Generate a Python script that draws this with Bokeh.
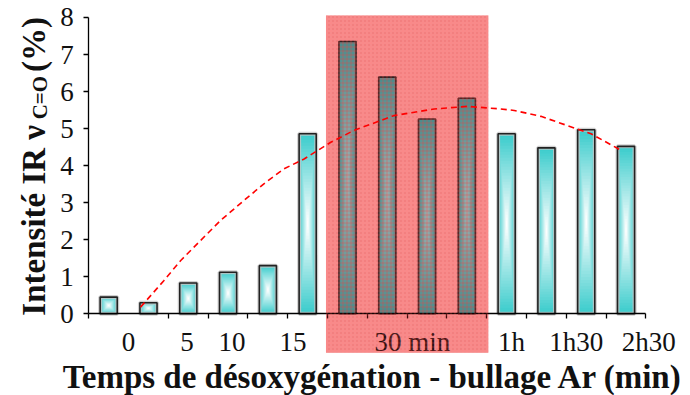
import numpy as np
from bokeh.plotting import figure
from bokeh.models import Range1d, LinearAxis, FixedTicker, Label
from bokeh.embed import file_html
from bokeh.resources import INLINE

# ---------------- data ----------------
values = [0.45, 0.30, 0.83, 1.12, 1.30, 4.86, 7.35, 6.39, 5.26, 5.82, 4.86, 4.48, 4.97, 4.52]
tick_labels = ["0", "5", "10", "15", "30 min", "1h", "1h30", "2h30"]
tick_label_pos = [1.0, 2.47, 3.6, 5.13, 8.13, 10.62, 12.25, 14.07]
category_edges = [0] + list(range(2, 15))
trend_x = [1.30, 1.89, 2.31, 2.81, 3.31, 3.90, 4.40, 4.90, 5.41, 6.08, 6.66, 7.67,
           8.68, 9.52, 10.35, 10.69, 11.36, 12.03, 12.62, 13.38]
trend_y = [0.18, 0.90, 1.44, 1.98, 2.52, 3.06, 3.51, 3.91, 4.18, 4.63, 4.95, 5.35,
           5.53, 5.60, 5.53, 5.49, 5.33, 5.08, 4.86, 4.41]
zone_x = (5.96, 10.04)        # shaded "30 min" zone (category units)
zone_y = (-1.05, 8.05)
y_ticks = list(range(9))
x_title = "Temps de désoxygénation - bullage Ar (min)"

FONT = "Liberation Serif"
BAR_W = 0.43
N_STEPS = 30
TEAL = np.array([60, 204, 204])
WHITE = np.array([255, 255, 255])
ZONE_EDGE = np.array([62, 148, 148])
ZONE_CENTER = np.array([150, 186, 186])

X0, X1 = -2.219, 15.12
Y0, Y1 = -2.206, 8.458
p = figure(width=690, height=395, x_range=Range1d(X0, X1), y_range=Range1d(Y0, Y1),
           output_backend="svg", toolbar_location=None, x_axis_type=None, y_axis_type=None,
           min_border=0)
p.outline_line_color = None
p.background_fill_color = "white"
p.border_fill_color = "white"

# ---------------- shaded zone (behind the bars) ----------------
p.quad(left=[zone_x[0]], right=[zone_x[1]], bottom=[zone_y[0]], top=[zone_y[1]],
       fill_color="#ea3c3c", fill_alpha=0.62, line_color=None,
       hatch_pattern="+", hatch_color="white", hatch_alpha=0.5, hatch_scale=4,
       hatch_weight=1)

# ---------------- bars with rectangular "from centre" gradient ----------------
xc = np.arange(len(values)) + 0.5
vals = np.array(values)
in_zone = (xc > zone_x[0]) & (xc < zone_x[1])
L, R, B, T, C = [], [], [], [], []
for k in range(N_STEPS):
    s = 1 - k / N_STEPS
    t = k / (N_STEPS - 1)
    for cx, v, z in zip(xc, vals, in_zone):
        edge, centre = (ZONE_EDGE, ZONE_CENTER) if z else (TEAL, WHITE)
        col = edge * (1 - t) + centre * t
        L.append(cx - BAR_W / 2 * s)
        R.append(cx + BAR_W / 2 * s)
        B.append(v / 2 - v / 2 * s)
        T.append(v / 2 + v / 2 * s)
        C.append("#%02x%02x%02x" % tuple(int(round(c)) for c in col))
p.quad(left=L, right=R, bottom=B, top=T, fill_color=C, line_color=None)
# soft shadow + outline
p.quad(left=xc[~in_zone] - BAR_W / 2, right=xc[~in_zone] + BAR_W / 2, bottom=0,
       top=vals[~in_zone], fill_color=None, line_color="#c4c4c4", line_width=4, line_alpha=0.8)
p.quad(left=xc - BAR_W / 2, right=xc + BAR_W / 2, bottom=0, top=vals,
       fill_color=None, line_color="#222222", line_width=1.6)

# ---------------- axes (drawn at data 0) ----------------
yaxis = LinearAxis(ticker=FixedTicker(ticks=y_ticks), bounds=(0, 8), fixed_location=0)
yaxis.major_tick_out = 5
yaxis.major_tick_in = 0
yaxis.minor_tick_line_color = None
yaxis.major_label_standoff = 10
yaxis.major_label_text_font = FONT
yaxis.major_label_text_font_size = "27px"
yaxis.major_label_text_color = "#111111"
yaxis.axis_line_width = 1.3
yaxis.major_tick_line_width = 1.3
p.add_layout(yaxis, "left")

xaxis = LinearAxis(ticker=FixedTicker(ticks=tick_label_pos, minor_ticks=category_edges),
                   bounds=(0, 14), fixed_location=0,
                   major_label_overrides={pos: lab for pos, lab in zip(tick_label_pos, tick_labels)})
xaxis.axis_line_width = 1.3
xaxis.major_tick_line_color = None
xaxis.major_tick_out = 0
xaxis.major_tick_in = 0
xaxis.minor_tick_out = 5
xaxis.minor_tick_in = 0
xaxis.minor_tick_line_color = "black"
xaxis.minor_tick_line_width = 1.3
xaxis.major_label_standoff = 8
xaxis.major_label_text_font = FONT
xaxis.major_label_text_font_size = "27px"
xaxis.major_label_text_color = "#111111"
p.add_layout(xaxis, "below")

# ---------------- zone texture over everything + trend line ----------------
p.quad(left=[zone_x[0]], right=[zone_x[1]], bottom=[zone_y[0]], top=[zone_y[1]],
       fill_color="#ff3030", fill_alpha=0.08, line_color=None,
       hatch_pattern="+", hatch_color="#ff3a3a", hatch_alpha=0.35, hatch_scale=4,
       hatch_weight=1, level="overlay")
p.line(trend_x, trend_y, line_color="#ff0000", line_width=1.6, line_dash="6 4",
       level="overlay")

# ---------------- titles ----------------
p.add_layout(Label(x=7.14, y=-1.72, text=x_title, text_font=FONT, text_font_style="bold",
                   text_font_size="33px", text_color="#111111", text_align="center",
                   text_baseline="alphabetic"))

common = dict(angle=np.pi / 2, text_font=FONT, text_font_style="bold",
              text_color="#111111", text_align="left", text_baseline="alphabetic")
p.add_layout(Label(x=-1.37, y=-0.05, text="Intensité IR ν", text_font_size="33px", **common))
p.add_layout(Label(x=-1.22, y=5.25, text="C=O", text_font_size="21px", **common))
p.add_layout(Label(x=-1.37, y=6.53, text="(%)", text_font_size="33px", **common))

open("out.html", "w").write(file_html(p, INLINE))
